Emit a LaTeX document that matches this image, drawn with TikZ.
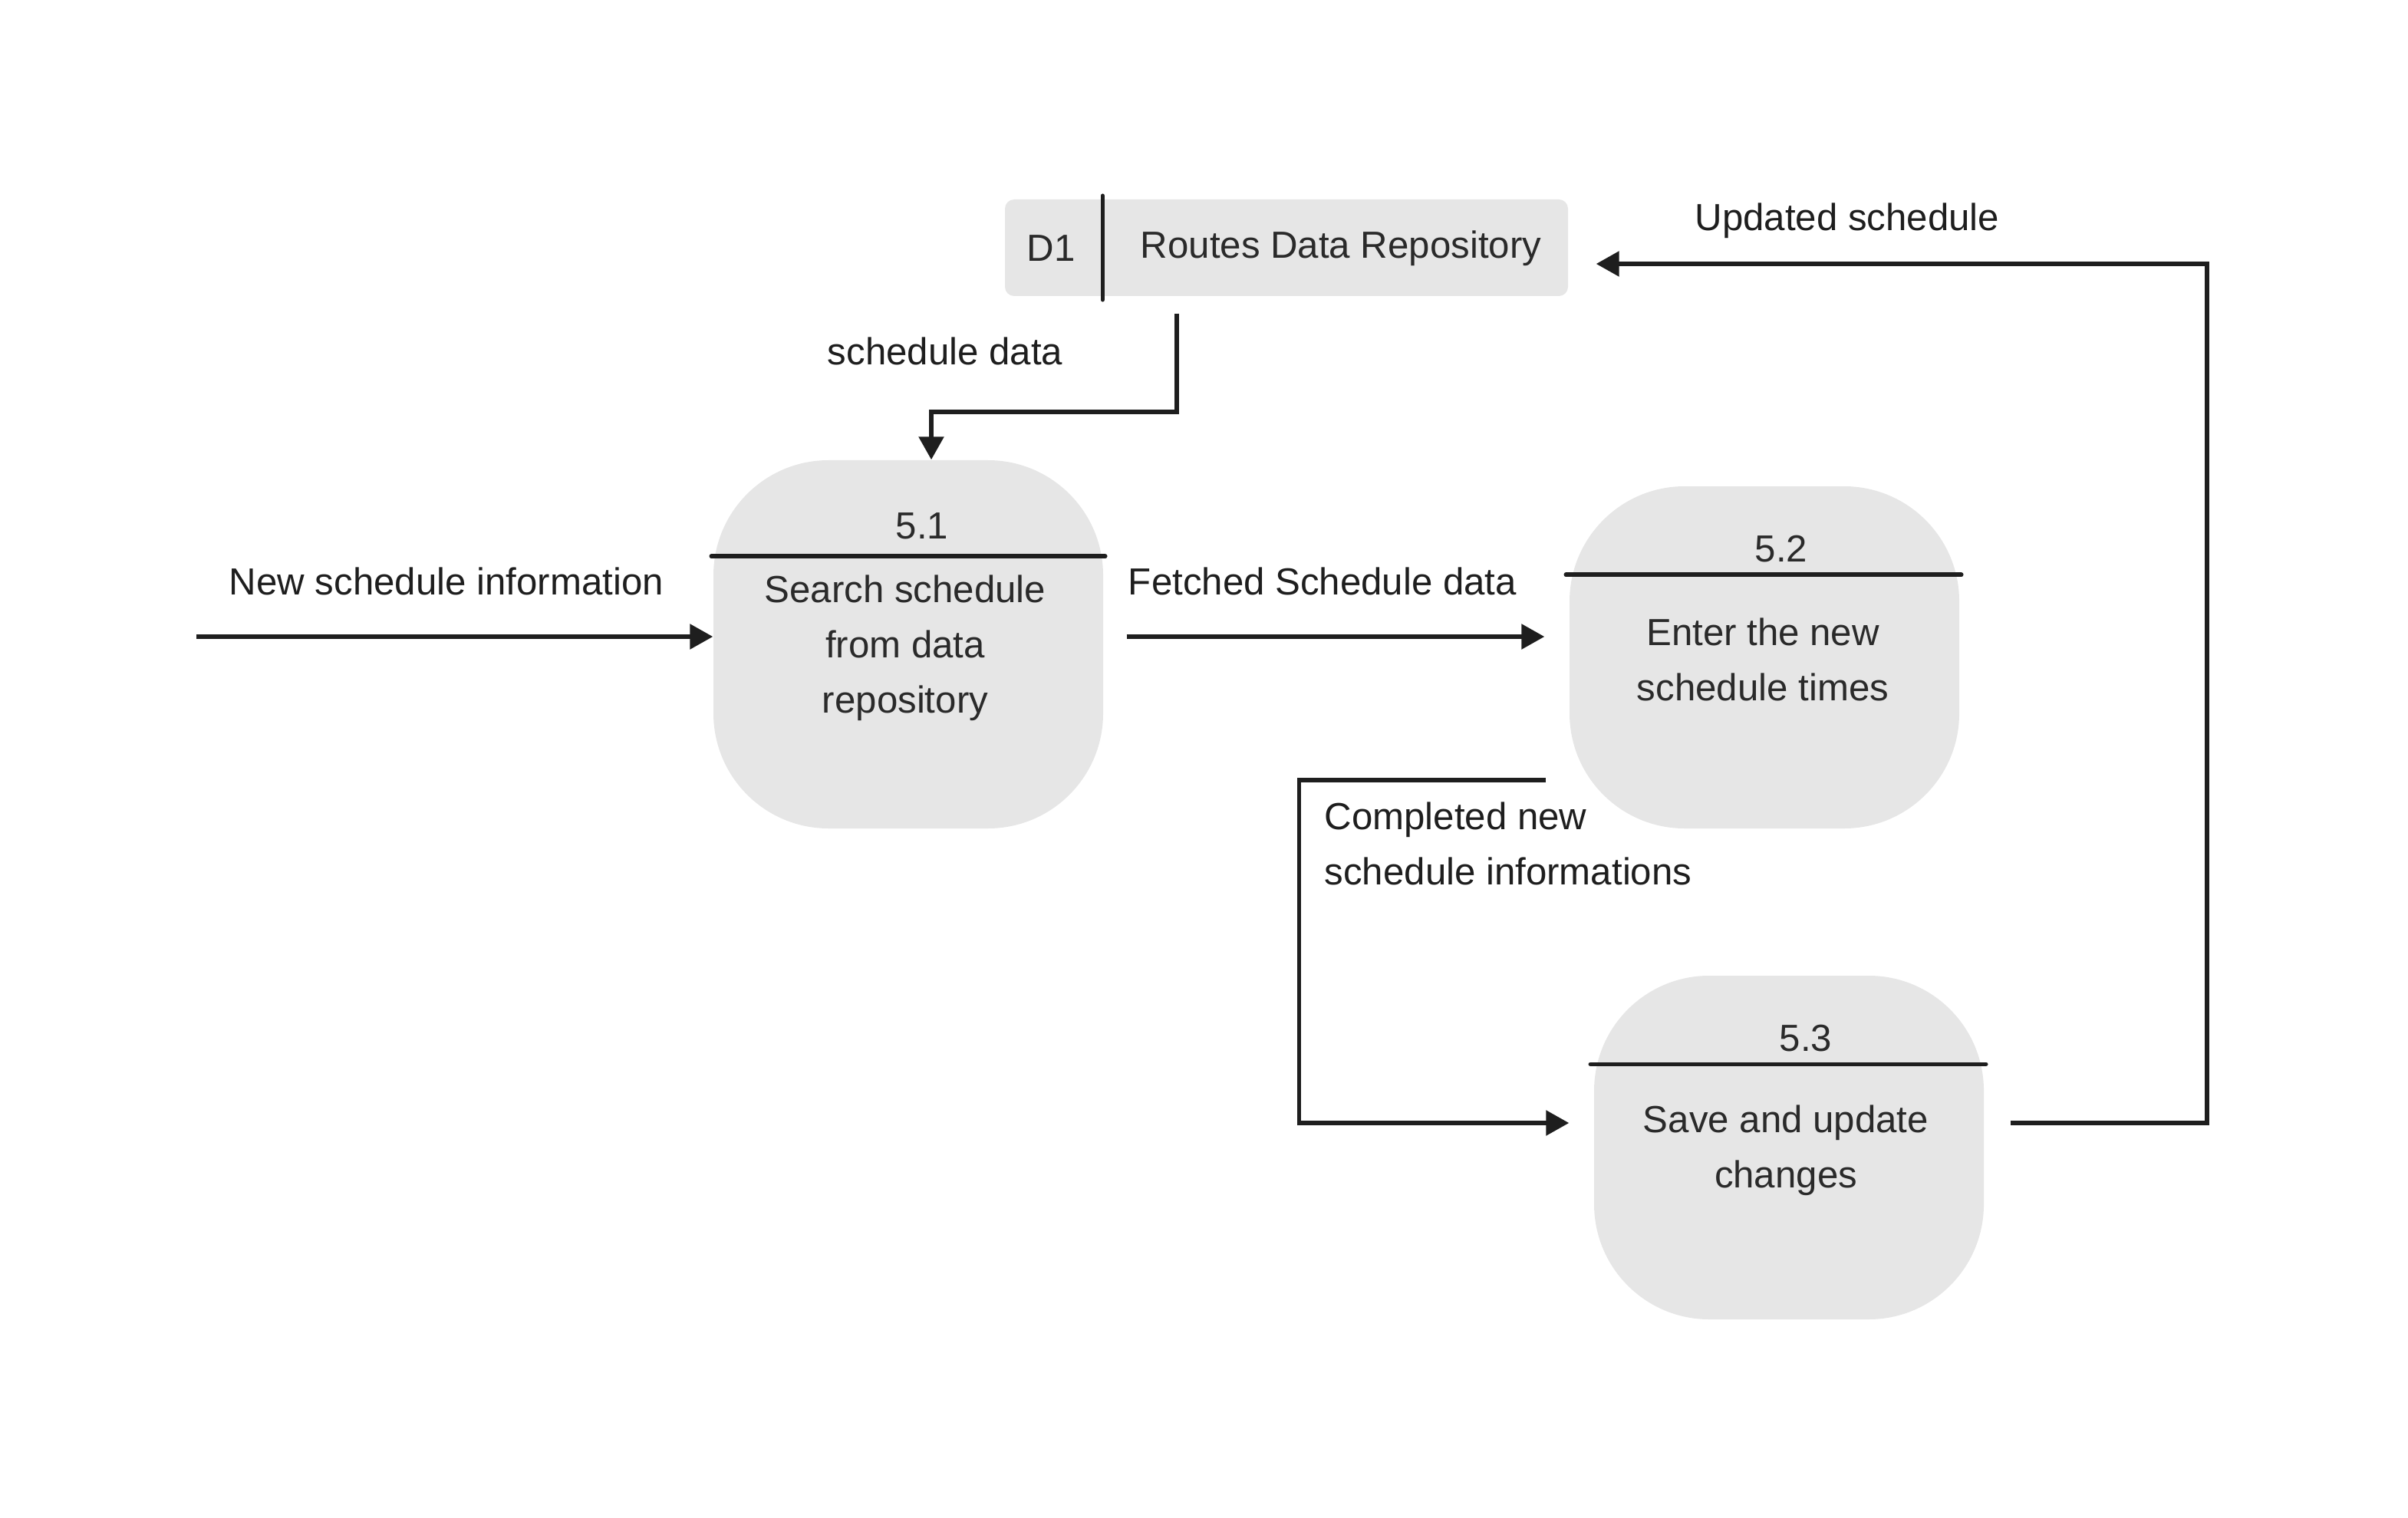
\documentclass[tikz,border=0pt]{standalone}
\usepackage{fontspec}
\setmainfont{Liberation Sans}
\usepackage{xcolor}
\usepackage{tikz}
\usetikzlibrary{positioning, arrows.meta, calc}
\definecolor{pFill}{HTML}{E6E6E6}
\definecolor{pInk}{HTML}{1E1E1E}
\definecolor{pText}{HTML}{2A2A2A}
\tikzset{
  process/.style={fill=pFill, rounded corners=1.5cm, minimum width=5.08cm, inner sep=0pt},
  store/.style={fill=pFill, rounded corners=0.12cm, minimum width=7.34cm, minimum height=1.26cm, inner sep=0pt},
  divline/.style={draw=pInk, line width=1.6pt, line cap=round},
  procnum/.style={text=pText, font=\fontsize{14}{20.5}\selectfont, inner sep=0pt},
  proctext/.style={text=pText, font=\fontsize{14}{20.5}\selectfont, align=center, inner sep=0pt},
  flow/.style={-{Triangle[length=0.3cm, width=0.32cm]}, draw=pInk, line width=1.6pt},
  flowlabel/.style={text=pInk, font=\fontsize{14}{20.5}\selectfont, inner sep=0pt},
}

\begin{document}
\begin{tikzpicture}
  \useasboundingbox (0,0) rectangle (31.39,-19.78);
  % data store
  \node[store] (store) at (16.77,-3.23) {};
  \draw[divline] ([shift={(1.28,0.04)}]store.north west) -- ([shift={(1.28,-0.04)}]store.south west);
  \node[procnum] (d1) at (13.7,-3.24) {D1};
  \node[procnum] (repo) at (17.48,-3.24) {Routes Data Repository};
  % processes
  \node[process, minimum height=4.8cm] (p51) at (11.84,-8.4) {};
  \node[process, minimum height=4.46cm] (p52) at (23.0,-8.57) {};
  \node[process, minimum height=4.48cm] (p53) at (23.32,-14.96) {};
  \draw[divline] ([shift={(-0.02,-1.26)}]p51.north west) -- ([shift={(0.02,-1.26)}]p51.north east);
  \draw[divline] ([shift={(-0.04,-1.16)}]p52.north west) -- ([shift={(0.02,-1.16)}]p52.north east);
  \draw[divline] ([shift={(-0.04,-1.16)}]p53.north west) -- ([shift={(0.02,-1.16)}]p53.north east);
  \node[procnum] (n51) at (12.02,-6.86) {5.1};
  \node[procnum] (n52) at (23.22,-7.16) {5.2};
  \node[procnum] (n53) at (23.54,-13.54) {5.3};
  \node[proctext] (t51) at (11.8,-8.45) {Search schedule\\from data\\repository};
  \node[proctext] (t52) at (22.98,-8.6) {Enter the new\\schedule times};
  \node[proctext] (t53) at (23.28,-15.0) {Save and update\\changes};
  % flows
  \coordinate (src) at (2.56,-8.3);
  \draw[flow] (src) -- (src -| p51.west);
  \draw[flow] ([xshift=0.3cm]p51.east |- src) -- ([xshift=-0.32cm]p52.west |- src);
  \draw[flow] ([shift={(-1.43,-0.22)}]store.south) -- ++(0,-1.28) -| ([xshift=0.3cm]p51.north);
  \draw[flow] ([shift={(-0.3,0.64)}]p52.south west) -- ++(-3.22,0) |- ([shift={(-0.32,0.32)}]p53.west);
  \draw[flow] ([shift={(0.34,0.32)}]p53.east) -- ++(2.56,0) |- ([shift={(0.36,-0.21)}]store.east);
  \node[flowlabel] (lnew) at (5.82,-7.58) {New schedule information};
  \node[flowlabel] (lfetch) at (17.24,-7.58) {Fetched Schedule data};
  \node[flowlabel] (lsched) at (12.32,-4.58) {schedule data};
  \node[flowlabel, align=left, anchor=west] (ldone) at (17.26,-11.0) {Completed new\\schedule informations};
  \node[flowlabel] (lupd) at (24.08,-2.88) {Updated schedule};
\end{tikzpicture}
\end{document}
